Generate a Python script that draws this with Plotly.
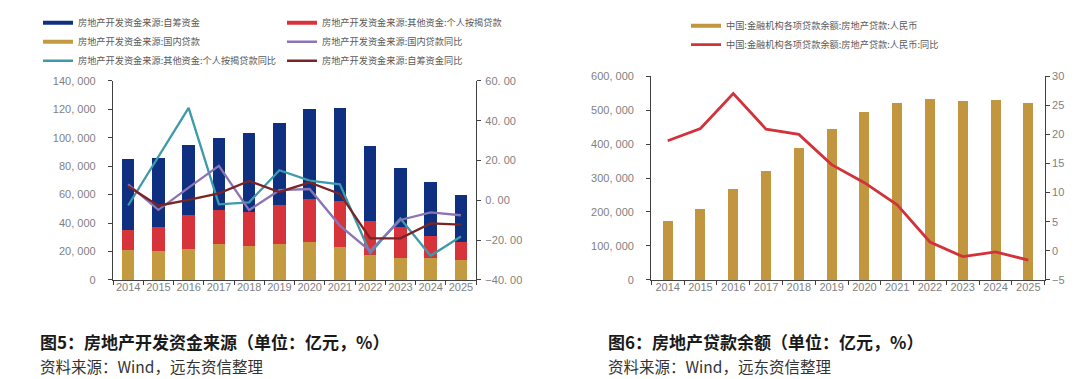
import plotly.graph_objects as go

# ---------------- data ----------------
years = [str(y) for y in range(2014, 2026)]

# Figure 5: 房地产开发资金来源 (亿元)
self_raised = [50420, 49038, 49133, 50872, 55831, 58158, 63377, 65428, 52940, 41989, 37746, 32650]
mortgage = [13665, 16662, 24403, 23906, 23706, 27281, 29976, 32388, 23815, 21489, 15661, 13100]
domestic_loan = [21243, 20214, 21512, 25242, 24005, 25229, 26676, 23296, 17388, 15595, 15217, 13800]
# YoY (%)
domestic_loan_yoy = [8.0, -4.8, 6.4, 17.3, -4.9, 5.1, 5.7, -12.7, -25.4, -9.9, -6.1, -7.5]
mortgage_yoy = [-2.6, 21.9, 46.5, -2.0, -1.0, 15.1, 9.9, 8.0, -26.5, -9.1, -27.9, -18.2]
self_raised_yoy = [7.1, -2.7, 0.2, 3.5, 9.7, 4.2, 9.0, 3.2, -19.1, -19.1, -11.6, -12.2]

# Figure 6: 房地产贷款余额 (亿元) and YoY (%)
re_loan_balance = [173500, 210100, 266800, 322000, 387000, 444100, 495800, 521700, 531600, 527000, 529000, 521300]
re_loan_yoy = [18.9, 21.0, 27.0, 20.9, 20.0, 14.8, 11.7, 7.9, 1.5, -1.0, -0.2, -1.6]

left_y_ticks = [0, 20000, 40000, 60000, 80000, 100000, 120000, 140000]
left_y2_ticks = [-40, -20, 0, 20, 40, 60]
right_y_ticks = [0, 100000, 200000, 300000, 400000, 500000, 600000]
right_y2_ticks = [-5, 0, 5, 10, 15, 20, 25, 30]

names5 = {
    "self": "房地产开发资金来源:自筹资金",
    "mort": "房地产开发资金来源:其他资金:个人按揭贷款",
    "dom": "房地产开发资金来源:国内贷款",
    "dom_yoy": "房地产开发资金来源:国内贷款同比",
    "mort_yoy": "房地产开发资金来源:其他资金:个人按揭贷款同比",
    "self_yoy": "房地产开发资金来源:自筹资金同比",
}
names6 = ["中国:金融机构各项贷款余额:房地产贷款:人民币", "中国:金融机构各项贷款余额:房地产贷款:人民币:同比"]

# ---------------- style ----------------
C_BLUE = "#0F2F80"
C_RED = "#D7333B"
C_GOLD = "#C49A40"
C_PURPLE = "#8B74B5"
C_TEAL = "#3C9AAB"
C_DRED = "#7A2425"
C_GOLD2 = "#C1963E"
C_RED2 = "#D2323A"
AX = "#404040"
TICK = "#7f7f7f"
W, H = 1080, 379


def px_x(p):
    return p / W


def px_y(p):
    return 1 - p / H


def fmt_thousands(v):
    return f"{v:,}".replace(",", ", ")


def fmt_pct(v):
    s = f"{abs(v):.2f}".replace(".", ". ")
    return ("\u2212" if v < 0 else "") + s


fig = go.Figure()

# ---- left chart bars (stack: bottom to top) ----
for vals, col, key in [(domestic_loan, C_GOLD, "dom"), (mortgage, C_RED, "mort"), (self_raised, C_BLUE, "self")]:
    fig.add_trace(go.Bar(x=years, y=vals, marker=dict(color=col, line=dict(width=0)), width=0.42,
                         name=names5[key], showlegend=False, xaxis="x", yaxis="y"))

# legend column 1: 自筹资金, 国内贷款, 个人按揭贷款同比
fig.add_trace(go.Scatter(x=[None], y=[None], mode="lines", line=dict(color=C_BLUE, width=4),
                         name=names5["self"], legend="legend", xaxis="x", yaxis="y"))
fig.add_trace(go.Scatter(x=[None], y=[None], mode="lines", line=dict(color=C_GOLD, width=4),
                         name=names5["dom"], legend="legend", xaxis="x", yaxis="y"))
fig.add_trace(go.Scatter(x=years, y=mortgage_yoy, mode="lines", line=dict(color=C_TEAL, width=2.3),
                         name=names5["mort_yoy"], legend="legend", xaxis="x", yaxis="y2"))
# legend column 2: 个人按揭贷款, 国内贷款同比, 自筹资金同比
fig.add_trace(go.Scatter(x=[None], y=[None], mode="lines", line=dict(color=C_RED, width=4),
                         name=names5["mort"], legend="legend3", xaxis="x", yaxis="y"))
fig.add_trace(go.Scatter(x=years, y=domestic_loan_yoy, mode="lines", line=dict(color=C_PURPLE, width=2.3),
                         name=names5["dom_yoy"], legend="legend3", xaxis="x", yaxis="y2"))
fig.add_trace(go.Scatter(x=years, y=self_raised_yoy, mode="lines", line=dict(color=C_DRED, width=2.3),
                         name=names5["self_yoy"], legend="legend3", xaxis="x", yaxis="y2"))

# ---- right chart ----
fig.add_trace(go.Bar(x=years, y=re_loan_balance, marker=dict(color=C_GOLD2, line=dict(width=0)), width=0.305,
                     showlegend=False, name=names6[0], xaxis="x2", yaxis="y3"))
fig.add_trace(go.Scatter(x=[None], y=[None], mode="lines", line=dict(color=C_GOLD2, width=4),
                         name=names6[0], legend="legend2", xaxis="x2", yaxis="y3"))
fig.add_trace(go.Scatter(x=years, y=re_loan_yoy, mode="lines", line=dict(color=C_RED2, width=2.8),
                         name=names6[1], legend="legend2", xaxis="x2", yaxis="y4"))

tickfont = dict(family="Liberation Sans, Arial, sans-serif", size=11, color=TICK)
common_x = dict(type="category", showline=True, linecolor=AX, linewidth=1.3, ticks="outside", ticklen=4,
                tickcolor=AX, tickwidth=1, tickson="boundaries", showgrid=False, zeroline=False,
                tickangle=0, ticklabelstandoff=-3, tickfont=tickfont, fixedrange=True)
common_y = dict(showline=True, linecolor=AX, linewidth=1.3, ticks="outside", ticklen=4, tickcolor=AX,
                tickwidth=1, showgrid=False, zeroline=False, tickfont=tickfont, fixedrange=True)

legfont = dict(family="Noto Sans CJK SC, sans-serif", size=9.2, color="#595959")
leg_common = dict(orientation="v", xanchor="left", yanchor="top", bgcolor="rgba(0,0,0,0)",
                  borderwidth=0, font=legfont, itemwidth=30, tracegroupgap=0, traceorder="normal")

fig.update_layout(
    width=W, height=H,
    margin=dict(l=0, r=0, t=0, b=0),
    paper_bgcolor="white", plot_bgcolor="white",
    barmode="stack",
    showlegend=True,
    xaxis=dict(domain=[px_x(105), px_x(468)], anchor="y", **common_x),
    yaxis=dict(domain=[px_y(274.3), px_y(68.3)], anchor="x", range=[0, 140000],
               tickvals=left_y_ticks, ticktext=[fmt_thousands(v) for v in left_y_ticks],
               ticklabelstandoff=10, **common_y),
    yaxis2=dict(overlaying="y", side="right", anchor="x", range=[-40, 60],
                tickvals=left_y2_ticks, ticktext=[fmt_pct(v) for v in left_y2_ticks],
                ticklabelstandoff=2, **common_y),
    xaxis2=dict(domain=[px_x(643.3), px_x(1036.7)], anchor="y3", **common_x),
    yaxis3=dict(domain=[px_y(274.3), px_y(63.3)], anchor="x2", range=[0, 600000],
                tickvals=right_y_ticks, ticktext=[fmt_thousands(v) for v in right_y_ticks],
                ticklabelstandoff=10, **common_y),
    yaxis4=dict(overlaying="y3", side="right", anchor="x2", range=[-5, 30],
                tickvals=right_y2_ticks, ticktext=[("\u2212" + str(-v)) if v < 0 else str(v) for v in right_y2_ticks],
                ticklabelstandoff=0, **common_y),
    legend=dict(x=px_x(30), y=px_y(-7), **leg_common),
    legend3=dict(x=px_x(274), y=px_y(-7), **leg_common),
    legend2=dict(x=px_x(678), y=px_y(-4), **leg_common),
)

cap_bold = dict(family="Noto Sans CJK SC, sans-serif", size=17, color="#1a1a1a", weight="bold")
cap_norm = dict(family="Noto Sans CJK SC, sans-serif", size=15.5, color="#333333")
captions = [
    (30, 338.5, "图5：房地产开发资金来源（单位：亿元，%）", cap_bold),
    (30, 363.5, "资料来源：Wind，远东资信整理", cap_norm),
    (598, 338.5, "图6：房地产贷款余额（单位：亿元，%）", cap_bold),
    (598, 363.5, "资料来源：Wind，远东资信整理", cap_norm),
]
for cx, cy, txt, f in captions:
    fig.add_annotation(x=px_x(cx), y=px_y(cy), xref="paper", yref="paper", text=txt, showarrow=False,
                       xanchor="left", yanchor="middle", font=f)

fig.write_html("out.html")
